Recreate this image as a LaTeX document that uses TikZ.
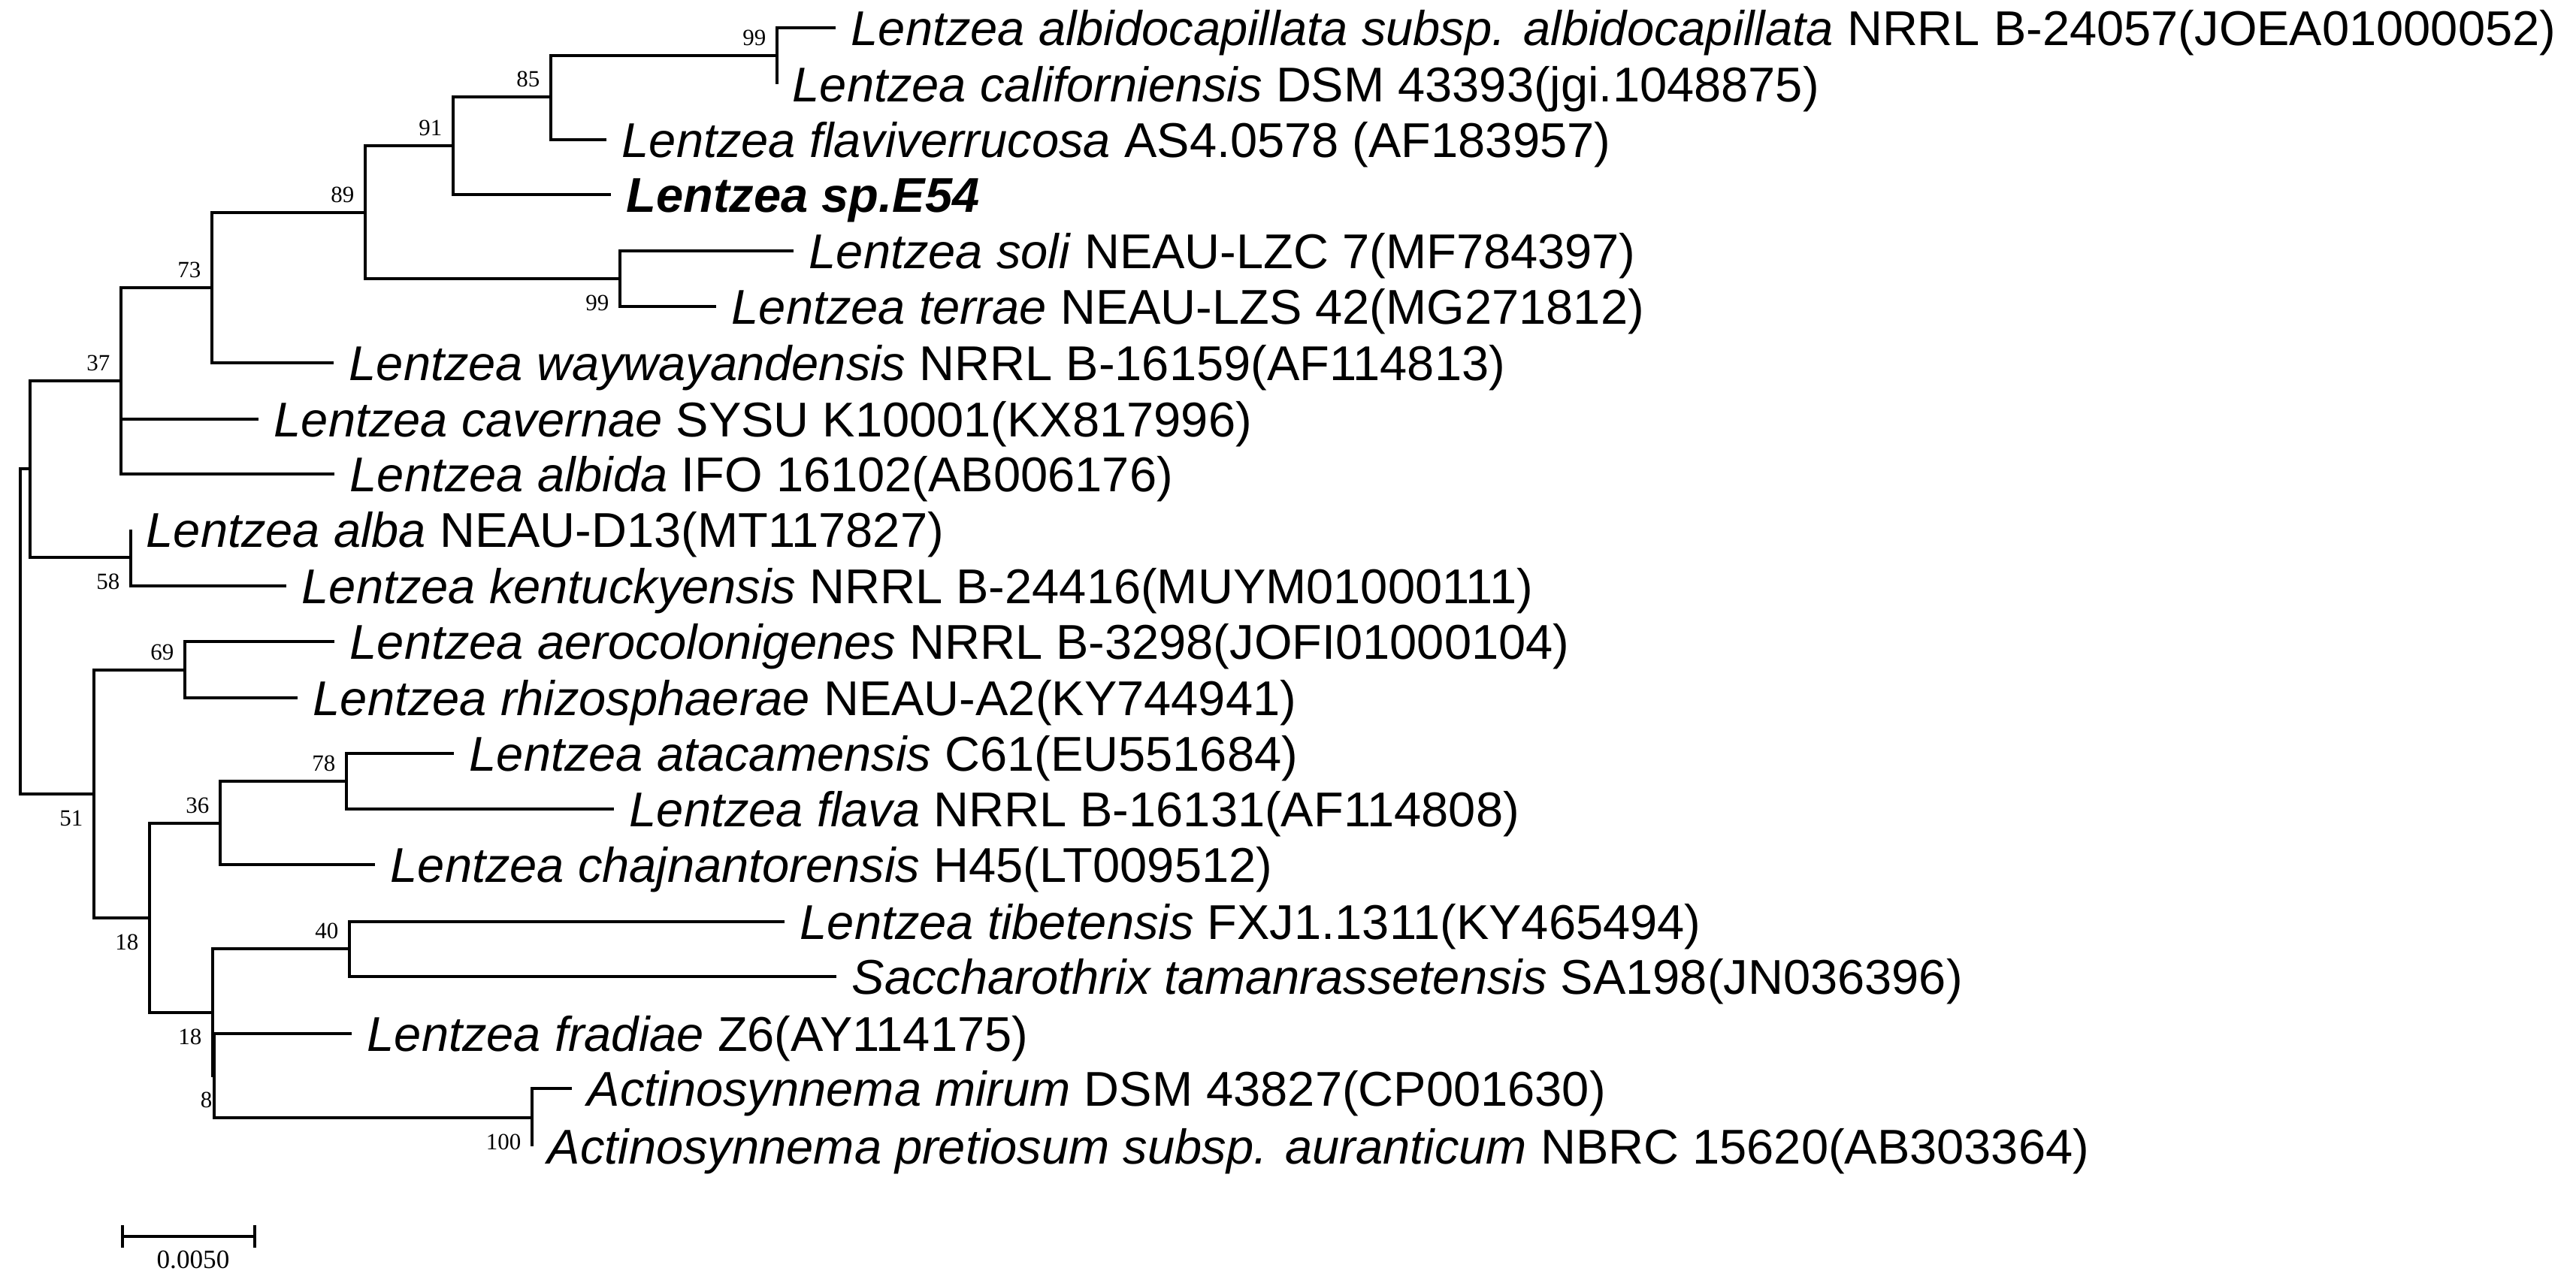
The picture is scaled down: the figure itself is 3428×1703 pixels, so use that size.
\documentclass[tikz,border=0pt]{standalone}
\usepackage{fontspec}
\setmainfont{Liberation Sans}
\newfontfamily\bootfont{Liberation Serif}
\tikzset{
	branch/.style={black, line width=0.35mm},
	taxon/.style={anchor=base west, xshift=2mm, yshift=-2.3mm, font=\fontsize{18.5pt}{22pt}\selectfont},
	boot/.style={anchor=east, font=\bootfont\fontsize{8.8pt}{10pt}\selectfont},
	bsup/.style={boot, xshift=-1.4mm, yshift=2.4mm},
	bsdown/.style={boot, xshift=-1.4mm, yshift=-3.2mm}
}
\begin{document}
	\begin{tikzpicture}[x=0.1mm, y=-0.1mm]
		\tikzstyle{every node}+=[inner sep=0pt]
		\useasboundingbox (0,0) rectangle (3428,1703);
		% internal nodes
		\coordinate (root) at (27,840);
		\coordinate (nA) at (40,624);
		\coordinate (n37) at (161,507);
		\coordinate (n73) at (282,383);
		\coordinate (n89) at (486,283);
		\coordinate (n91) at (603,194);
		\coordinate (n85) at (733,129);
		\coordinate (n99a) at (1034,74);
		\coordinate (n99b) at (825,371);
		\coordinate (n58) at (174,742);
		\coordinate (n51) at (125,1057);
		\coordinate (n69) at (246,892);
		\coordinate (n18a) at (199,1222);
		\coordinate (n36) at (293,1096);
		\coordinate (n78) at (461,1040);
		\coordinate (n18b) at (283,1348);
		\coordinate (n40) at (465,1263);
		\coordinate (n8) at (285,1432);
		\coordinate (n100) at (708,1488);
		% tips
		\coordinate (albido) at (1112,37);
		\coordinate (calif) at (1034,112);
		\coordinate (flaviv) at (807,186);
		\coordinate (e54) at (813,259);
		\coordinate (soli) at (1056,334);
		\coordinate (terrae) at (953,408);
		\coordinate (wayway) at (444,483);
		\coordinate (cavern) at (344,558);
		\coordinate (albida) at (445,631);
		\coordinate (alba) at (174,705);
		\coordinate (kentuck) at (381,780);
		\coordinate (aeroc) at (445,854);
		\coordinate (rhizo) at (396,929);
		\coordinate (ataca) at (604,1003);
		\coordinate (flava) at (817,1077);
		\coordinate (chajn) at (499,1151);
		\coordinate (tibet) at (1044,1227);
		\coordinate (sacch) at (1113,1300);
		\coordinate (fradiae) at (468,1376);
		\coordinate (mirum) at (761,1449);
		\coordinate (pretio) at (708,1526);
		% branches
		\draw [branch] (root) |- (nA);
		\draw [branch] (root) |- (n51);
		\draw [branch] (nA) |- (n37);
		\draw [branch] (nA) |- (n58);
		\draw [branch] (n37) |- (n73);
		\draw [branch] (n37) |- (cavern);
		\draw [branch] (n37) |- (albida);
		\draw [branch] (n73) |- (n89);
		\draw [branch] (n73) |- (wayway);
		\draw [branch] (n89) |- (n91);
		\draw [branch] (n89) |- (n99b);
		\draw [branch] (n91) |- (n85);
		\draw [branch] (n91) |- (e54);
		\draw [branch] (n85) |- (n99a);
		\draw [branch] (n85) |- (flaviv);
		\draw [branch] (n99a) |- (albido);
		\draw [branch] (n99a) |- (calif);
		\draw [branch] (n99b) |- (soli);
		\draw [branch] (n99b) |- (terrae);
		\draw [branch] (n58) |- (alba);
		\draw [branch] (n58) |- (kentuck);
		\draw [branch] (n51) |- (n69);
		\draw [branch] (n51) |- (n18a);
		\draw [branch] (n69) |- (aeroc);
		\draw [branch] (n69) |- (rhizo);
		\draw [branch] (n18a) |- (n36);
		\draw [branch] (n18a) |- (n18b);
		\draw [branch] (n36) |- (n78);
		\draw [branch] (n36) |- (chajn);
		\draw [branch] (n78) |- (ataca);
		\draw [branch] (n78) |- (flava);
		\draw [branch] (n18b) |- (n40);
		\draw [branch] (n18b) |- (n8);
		\draw [branch] (n40) |- (tibet);
		\draw [branch] (n40) |- (sacch);
		\draw [branch] (n8) |- (fradiae);
		\draw [branch] (n8) |- (n100);
		\draw [branch] (n100) |- (mirum);
		\draw [branch] (n100) |- (pretio);
		% bootstrap values
		\node [bsup] (b99a) at (n99a) {99};
		\node [bsup] (b85) at (n85) {85};
		\node [bsup] (b91) at (n91) {91};
		\node [bsup] (b89) at (n89) {89};
		\node [bsdown] (b99b) at (n99b) {99};
		\node [bsup] (b73) at (n73) {73};
		\node [bsup] (b37) at (n37) {37};
		\node [bsdown] (b58) at (n58) {58};
		\node [bsup] (b69) at (n69) {69};
		\node [bsdown] (b51) at (n51) {51};
		\node [bsup] (b36) at (n36) {36};
		\node [bsup] (b78) at (n78) {78};
		\node [bsdown] (b18a) at (n18a) {18};
		\node [bsup] (b40) at (n40) {40};
		\node [bsdown] (b18b) at (n18b) {18};
		\node [bsdown, xshift=1.2mm] (b8) at (n8) {8};
		\node [bsdown] (b100) at (n100) {100};
		% taxa
		\node [taxon] (lalbido) at (albido) {\textit{Lentzea albidocapillata subsp. albidocapillata} NRRL B-24057(JOEA01000052)};
		\node [taxon] (lcalif) at (calif) {\textit{Lentzea californiensis} DSM 43393(jgi.1048875)};
		\node [taxon] (lflaviv) at (flaviv) {\textit{Lentzea flaviverrucosa} AS4.0578 (AF183957)};
		\node [taxon] (le54) at (e54) {\textbf{\textit{Lentzea sp.E54}}};
		\node [taxon] (lsoli) at (soli) {\textit{Lentzea soli} NEAU-LZC 7(MF784397)};
		\node [taxon] (lterrae) at (terrae) {\textit{Lentzea terrae} NEAU-LZS 42(MG271812)};
		\node [taxon] (lwayway) at (wayway) {\textit{Lentzea waywayandensis} NRRL B-16159(AF114813)};
		\node [taxon] (lcavern) at (cavern) {\textit{Lentzea cavernae} SYSU K10001(KX817996)};
		\node [taxon] (lalbida) at (albida) {\textit{Lentzea albida} IFO 16102(AB006176)};
		\node [taxon] (lalba) at (alba) {\textit{Lentzea alba} NEAU-D13(MT117827)};
		\node [taxon] (lkentuck) at (kentuck) {\textit{Lentzea kentuckyensis} NRRL B-24416(MUYM01000111)};
		\node [taxon] (laeroc) at (aeroc) {\textit{Lentzea aerocolonigenes} NRRL B-3298(JOFI01000104)};
		\node [taxon] (lrhizo) at (rhizo) {\textit{Lentzea rhizosphaerae} NEAU-A2(KY744941)};
		\node [taxon] (lataca) at (ataca) {\textit{Lentzea atacamensis} C61(EU551684)};
		\node [taxon] (lflava) at (flava) {\textit{Lentzea flava} NRRL B-16131(AF114808)};
		\node [taxon] (lchajn) at (chajn) {\textit{Lentzea chajnantorensis} H45(LT009512)};
		\node [taxon] (ltibet) at (tibet) {\textit{Lentzea tibetensis} FXJ1.1311(KY465494)};
		\node [taxon] (lsacch) at (sacch) {\textit{Saccharothrix tamanrassetensis} SA198(JN036396)};
		\node [taxon] (lfradiae) at (fradiae) {\textit{Lentzea fradiae} Z6(AY114175)};
		\node [taxon] (lmirum) at (mirum) {\textit{Actinosynnema mirum} DSM 43827(CP001630)};
		\node [taxon] (lpretio) at (pretio) {\textit{Actinosynnema pretiosum subsp. auranticum} NBRC 15620(AB303364)};
		% scale bar
		\coordinate (sbl) at (163,1646);
		\coordinate (sbr) at (339,1646);
		\draw [branch] (sbl) -- (sbr);
		\draw [branch] ([yshift=1.5mm]sbl) -- ([yshift=-1.45mm]sbl);
		\draw [branch] ([yshift=1.5mm]sbr) -- ([yshift=-1.45mm]sbr);
		\node [font=\bootfont\fontsize{10pt}{12pt}\selectfont] (sblab) at (257,1677) {0.0050};
	\end{tikzpicture}
\end{document}
